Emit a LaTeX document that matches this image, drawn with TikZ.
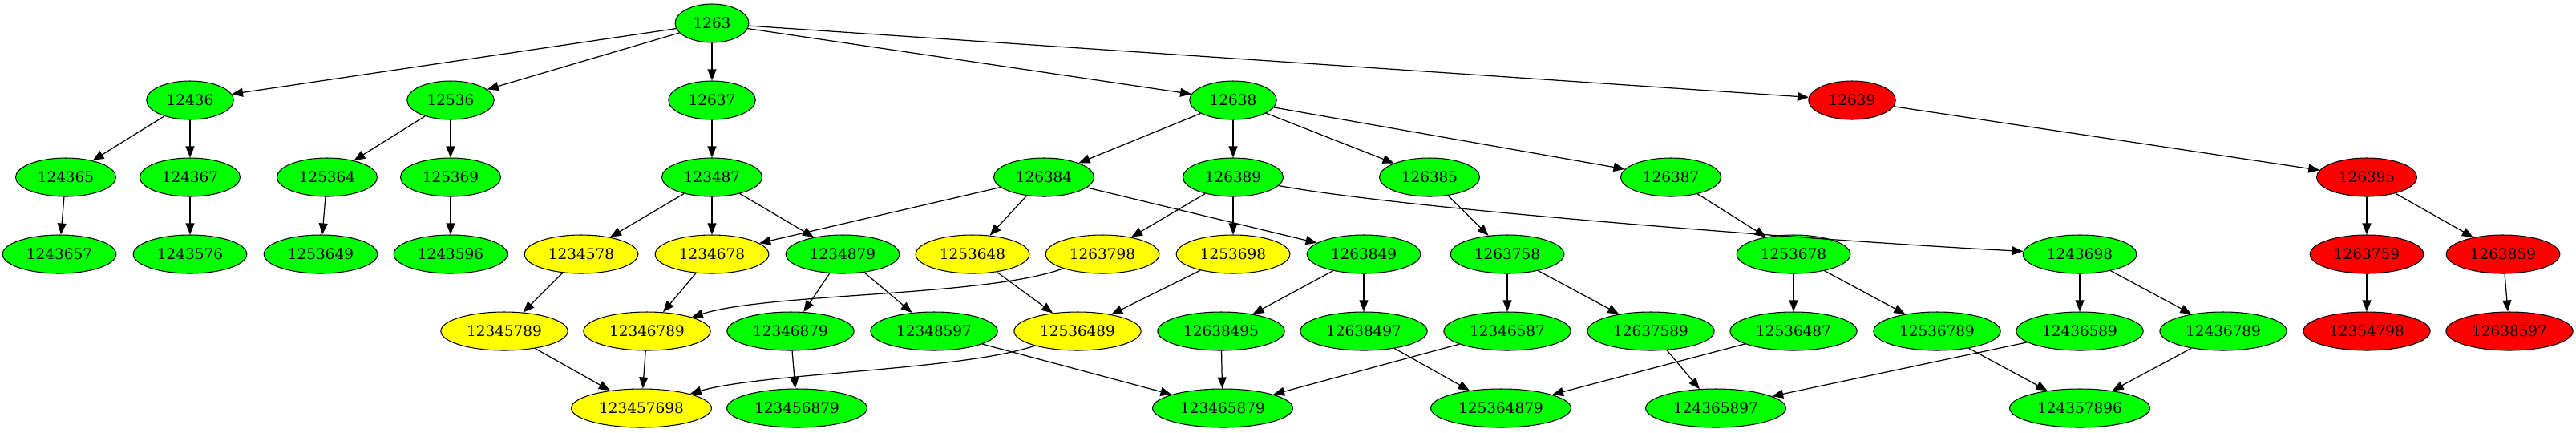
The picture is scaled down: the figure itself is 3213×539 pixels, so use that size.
\documentclass[tikz,border=0pt]{standalone}
\usepackage{fontspec}
\setmainfont{DejaVu Serif}
\usetikzlibrary{shapes.geometric,arrows.meta}
\definecolor{gvgreen}{HTML}{00FF00}
\definecolor{gvyellow}{HTML}{FFFF00}
\definecolor{gvred}{HTML}{FF0000}
\begin{document}
\begin{tikzpicture}[x=0.02cm,y=-0.02cm,
  nd/.style={ellipse,draw=black,line width=0.6pt,minimum height=0.96cm,inner xsep=0.18cm,inner ysep=0.1cm,font=\fontsize{10.5pt}{12pt}\selectfont},
  gn/.style={nd,fill=gvgreen},
  yn/.style={nd,fill=gvyellow},
  rn/.style={nd,fill=gvred},
  ed/.style={-{Triangle[length=0.28cm,width=0.22cm]},line width=0.7pt}]
\useasboundingbox (0,0) rectangle (3213,539);
% row 0
\node[gn] (n1263) at (888,29) {1263};
% row 1
\node[gn] (n12436) at (237,125) {12436};
\node[gn] (n12536) at (562,125) {12536};
\node[gn] (n12637) at (888,125) {12637};
\node[gn] (n12638) at (1538,125) {12638};
\node[rn] (n12639) at (2310,125) {12639};
% row 2
\node[gn] (n124365) at (82,221) {124365};
\node[gn] (n124367) at (237,221) {124367};
\node[gn] (n125364) at (408,221) {125364};
\node[gn] (n125369) at (562,221) {125369};
\node[gn] (n123487) at (888,221) {123487};
\node[gn] (n126384) at (1302,221) {126384};
\node[gn] (n126389) at (1538,221) {126389};
\node[gn] (n126385) at (1783,221) {126385};
\node[gn] (n126387) at (2084,221) {126387};
\node[rn] (n126395) at (2952,221) {126395};
% row 3
\node[gn] (n1243657) at (74,317) {1243657};
\node[gn] (n1243576) at (237,317) {1243576};
\node[gn] (n1253649) at (400,317) {1253649};
\node[gn] (n1243596) at (562,317) {1243596};
\node[yn] (n1234578) at (725,317) {1234578};
\node[yn] (n1234678) at (888,317) {1234678};
\node[gn] (n1234879) at (1051,317) {1234879};
\node[yn] (n1253648) at (1213,317) {1253648};
\node[yn] (n1263798) at (1375,317) {1263798};
\node[yn] (n1253698) at (1538,317) {1253698};
\node[gn] (n1263849) at (1701,317) {1263849};
\node[gn] (n1263758) at (1880,317) {1263758};
\node[gn] (n1253678) at (2237,317) {1253678};
\node[gn] (n1243698) at (2594,317) {1243698};
\node[rn] (n1263759) at (2952,317) {1263759};
\node[rn] (n1263859) at (3122,317) {1263859};
% row 4
\node[yn] (n12345789) at (629,413) {12345789};
\node[yn] (n12346789) at (807,413) {12346789};
\node[gn] (n12346879) at (986,413) {12346879};
\node[gn] (n12348597) at (1165,413) {12348597};
\node[yn] (n12536489) at (1344,413) {12536489};
\node[gn] (n12638495) at (1523,413) {12638495};
\node[gn] (n12638497) at (1701,413) {12638497};
\node[gn] (n12346587) at (1880,413) {12346587};
\node[gn] (n12637589) at (2059,413) {12637589};
\node[gn] (n12536487) at (2237,413) {12536487};
\node[gn] (n12536789) at (2416,413) {12536789};
\node[gn] (n12436589) at (2594,413) {12436589};
\node[gn] (n12436789) at (2773,413) {12436789};
\node[rn] (n12354798) at (2952,413) {12354798};
\node[rn] (n12638597) at (3130,413) {12638597};
% row 5
\node[yn] (n123457698) at (800,509) {123457698};
\node[gn] (n123456879) at (994,509) {123456879};
\node[gn] (n123465879) at (1525,509) {123465879};
\node[gn] (n125364879) at (1872,509) {125364879};
\node[gn] (n124365897) at (2140,509) {124365897};
\node[gn] (n124357896) at (2594,509) {124357896};
% edges
\draw[ed] (n1263) -- (n12436);
\draw[ed] (n1263) -- (n12536);
\draw[ed] (n1263) -- (n12637);
\draw[ed] (n1263) -- (n12638);
\draw[ed] (n1263) -- (n12639);
\draw[ed] (n12436) -- (n124365);
\draw[ed] (n12436) -- (n124367);
\draw[ed] (n12536) -- (n125364);
\draw[ed] (n12536) -- (n125369);
\draw[ed] (n12637) -- (n123487);
\draw[ed] (n12638) -- (n126384);
\draw[ed] (n12638) -- (n126389);
\draw[ed] (n12638) -- (n126385);
\draw[ed] (n12638) -- (n126387);
\draw[ed] (n12639) -- (n126395);
\draw[ed] (n124365) -- (n1243657);
\draw[ed] (n124367) -- (n1243576);
\draw[ed] (n125364) -- (n1253649);
\draw[ed] (n125369) -- (n1243596);
\draw[ed] (n123487) -- (n1234578);
\draw[ed] (n123487) -- (n1234678);
\draw[ed] (n123487) -- (n1234879);
\draw[ed] (n126384) -- (n1234678);
\draw[ed] (n126384) -- (n1253648);
\draw[ed] (n126384) -- (n1263849);
\draw[ed] (n126389) -- (n1263798);
\draw[ed] (n126389) -- (n1253698);
\draw[ed] (n126389) .. controls (1760,262) and (2300,302) .. (n1243698);
\draw[ed] (n126385) -- (n1263758);
\draw[ed] (n126387) -- (n1253678);
\draw[ed] (n126395) -- (n1263759);
\draw[ed] (n126395) -- (n1263859);
\draw[ed] (n1234578) -- (n12345789);
\draw[ed] (n1234678) -- (n12346789);
\draw[ed] (n1234879) -- (n12346879);
\draw[ed] (n1234879) -- (n12348597);
\draw[ed] (n1253648) -- (n12536489);
\draw[ed] (n1263798) .. controls (1230,370) and (960,365) .. (n12346789);
\draw[ed] (n1253698) -- (n12536489);
\draw[ed] (n1263849) -- (n12638495);
\draw[ed] (n1263849) -- (n12638497);
\draw[ed] (n1263758) -- (n12346587);
\draw[ed] (n1263758) -- (n12637589);
\draw[ed] (n1253678) -- (n12536487);
\draw[ed] (n1253678) -- (n12536789);
\draw[ed] (n1243698) -- (n12436589);
\draw[ed] (n1243698) -- (n12436789);
\draw[ed] (n1263759) -- (n12354798);
\draw[ed] (n1263859) -- (n12638597);
\draw[ed] (n12345789) -- (n123457698);
\draw[ed] (n12346789) -- (n123457698);
\draw[ed] (n12346879) -- (n123456879);
\draw[ed] (n12348597) -- (n123465879);
\draw[ed] (n12536489) .. controls (1200,462) and (950,465) .. (n123457698);
\draw[ed] (n12638495) -- (n123465879);
\draw[ed] (n12638497) -- (n125364879);
\draw[ed] (n12346587) -- (n123465879);
\draw[ed] (n12637589) -- (n124365897);
\draw[ed] (n12536487) -- (n125364879);
\draw[ed] (n12536789) -- (n124357896);
\draw[ed] (n12436589) -- (n124365897);
\draw[ed] (n12436789) -- (n124357896);
\end{tikzpicture}
\end{document}
